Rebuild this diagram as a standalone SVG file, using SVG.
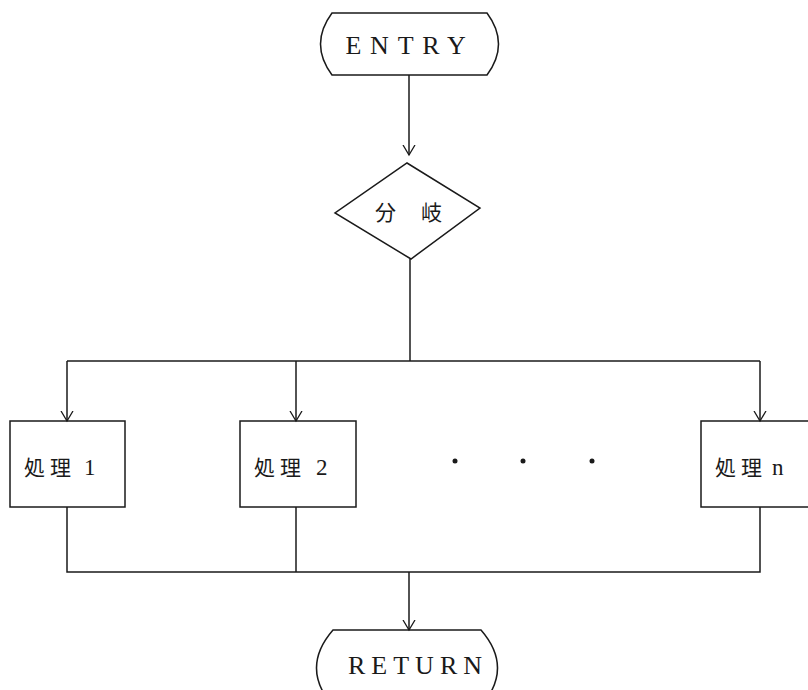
<svg xmlns="http://www.w3.org/2000/svg" width="808" height="690" viewBox="0 0 808 690">
<defs>
<style>
.s{fill:none;stroke:#1a1a1a;stroke-width:1.5}
.t{font-family:"Liberation Serif",serif;font-size:26px;fill:#1a1a1a;text-anchor:middle}
.j{font-family:"Noto Sans CJK JP","Liberation Serif",sans-serif;font-size:21px;fill:#1a1a1a}
.n{font-family:"Liberation Serif",serif;font-size:23px;fill:#1a1a1a}
</style>
<marker id="a" markerWidth="12" markerHeight="14" refX="10" refY="6" orient="auto" markerUnits="userSpaceOnUse" viewBox="0 0 12 12">
<polyline points="0,0 10,6 0,12" fill="none" stroke="#1a1a1a" stroke-width="1.3"/>
</marker>
</defs>
<rect width="808" height="690" fill="#fff"/>
<g id="entry">
<path class="s" d="M332,13 H487 Q510,44 487,75 H332 Q309,44 332,13 Z"/>
<text class="t" x="410" y="54" style="letter-spacing:8.8px">ENTRY</text>
</g>
<g id="branch">
<polygon class="s" points="407,163 480,208 411,259 335,213"/>
<text class="j" x="375" y="220">分</text>
<text class="j" x="421" y="220">岐</text>
</g>
<g id="proc1">
<rect class="s" x="10" y="421" width="115" height="86"/>
<text class="j" x="24" y="475">処</text>
<text class="j" x="50" y="475">理</text>
<text class="n" x="84" y="475">1</text>
</g>
<g id="proc2">
<rect class="s" x="240" y="421" width="116" height="86"/>
<text class="j" x="254" y="475">処</text>
<text class="j" x="280" y="475">理</text>
<text class="n" x="316" y="475">2</text>
</g>
<g id="dots">
<circle cx="455" cy="461" r="2.5" fill="#1a1a1a"/>
<circle cx="523" cy="461" r="2.5" fill="#1a1a1a"/>
<circle cx="592" cy="461" r="2.5" fill="#1a1a1a"/>
</g>
<g id="procn">
<rect class="s" x="701" y="421" width="120" height="86"/>
<text class="j" x="715" y="475">処</text>
<text class="j" x="741" y="475">理</text>
<text class="n" x="772" y="475">n</text>
</g>
<g id="return">
<path class="s" d="M333,630 H481 Q514,668 481,706 H333 Q300,668 333,630 Z"/>
<text class="t" x="418" y="674" style="letter-spacing:6px">RETURN</text>
</g>
<g id="connectors">
<line class="s" x1="409" y1="75" x2="409" y2="155" marker-end="url(#a)"/>
<polyline class="s" points="410,259 410,361"/>
<polyline class="s" points="67,361 760,361"/>
<line class="s" x1="67" y1="361" x2="67" y2="421" marker-end="url(#a)"/>
<line class="s" x1="296" y1="361" x2="296" y2="421" marker-end="url(#a)"/>
<line class="s" x1="760" y1="361" x2="760" y2="421" marker-end="url(#a)"/>
<polyline class="s" points="67,507 67,572 760,572 760,507"/>
<line class="s" x1="296" y1="507" x2="296" y2="572"/>
<line class="s" x1="409" y1="572" x2="409" y2="630" marker-end="url(#a)"/>
</g>
</svg>
